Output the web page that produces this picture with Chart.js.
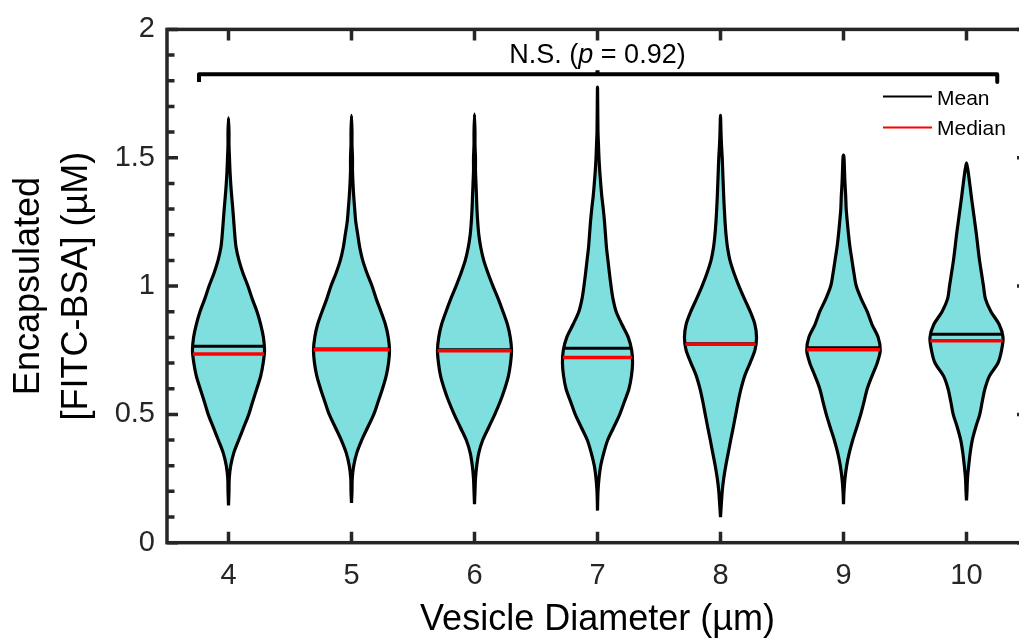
<!DOCTYPE html>
<html>
<head>
<meta charset="utf-8">
<title>Encapsulated FITC-BSA by vesicle diameter</title>
<script src="https://cdn.jsdelivr.net/npm/chart.js@4.4.0/dist/chart.umd.min.js"></script>
<style>
  html, body { margin: 0; padding: 0; overflow: hidden; background: #fff; }
  canvas { display: block; }
</style>
</head>
<body>
<canvas id="violin-chart" width="1040" height="638"></canvas>
<script>
/* ─── DATA ─── */
const diameters   = [4, 5, 6, 7, 8, 9, 10];            // µm, one violin each
const yTickValues = [0, 0.5, 1, 1.5, 2];
const yMinorTicks = [0.1, 0.2, 0.3, 0.4, 0.6, 0.7, 0.8, 0.9, 1.1, 1.2, 1.3, 1.4, 1.6, 1.7, 1.8, 1.9];

// density profile: concentration levels (µM) and violin half-widths at each level
// (half-widths in units of the spacing between diameters)
const levels = [0.20, 0.25, 0.30, 0.35, 0.40, 0.45, 0.50, 0.55, 0.60, 0.65, 0.70, 0.75, 0.80, 0.85,
                0.90, 0.95, 1.00, 1.05, 1.10, 1.15, 1.20, 1.25, 1.30, 1.35, 1.40, 1.45, 1.50, 1.55, 1.60];

const width4  = [0.004, 0.006, 0.018, 0.043, 0.083, 0.124, 0.165, 0.197, 0.230, 0.262, 0.282, 0.293, 0.284, 0.262,
                 0.232, 0.193, 0.158, 0.118, 0.085, 0.062, 0.051, 0.043, 0.035, 0.026, 0.018, 0.012, 0.008, 0.004, 0.004];
const width5  = [0.004, 0.006, 0.018, 0.043, 0.083, 0.132, 0.181, 0.217, 0.252, 0.282, 0.301, 0.309, 0.299, 0.276,
                 0.240, 0.201, 0.167, 0.126, 0.091, 0.067, 0.051, 0.035, 0.026, 0.018, 0.012, 0.008, 0.008, 0.004, 0.004];
const width6  = [0.004, 0.008, 0.018, 0.035, 0.067, 0.116, 0.165, 0.209, 0.246, 0.276, 0.293, 0.301, 0.291, 0.268,
                 0.232, 0.193, 0.150, 0.110, 0.075, 0.051, 0.035, 0.026, 0.020, 0.016, 0.012, 0.008, 0.008, 0.004, 0.004];
const width7  = [0.004, 0.012, 0.026, 0.051, 0.083, 0.132, 0.181, 0.219, 0.256, 0.276, 0.285, 0.278, 0.250, 0.199,
                 0.152, 0.126, 0.110, 0.097, 0.085, 0.073, 0.065, 0.057, 0.047, 0.035, 0.026, 0.018, 0.012, 0.008, 0.004];
const width8  = [0.014, 0.026, 0.043, 0.063, 0.083, 0.104, 0.124, 0.144, 0.167, 0.197, 0.240, 0.280, 0.293, 0.280,
                 0.242, 0.195, 0.150, 0.110, 0.077, 0.057, 0.045, 0.037, 0.031, 0.026, 0.022, 0.018, 0.014, 0.008, 0.004];
const width9  = [0.004, 0.012, 0.026, 0.047, 0.075, 0.108, 0.140, 0.167, 0.193, 0.232, 0.274, 0.299, 0.282, 0.232,
                 0.193, 0.144, 0.104, 0.085, 0.069, 0.053, 0.041, 0.031, 0.022, 0.018, 0.012, 0.008, 0.004, null, null];
const width10 = [0.004, 0.008, 0.018, 0.030, 0.047, 0.075, 0.108, 0.128, 0.150, 0.187, 0.256, 0.285, 0.297, 0.266,
                 0.199, 0.154, 0.138, 0.122, 0.106, 0.093, 0.081, 0.067, 0.053, 0.039, 0.026, 0.012, null, null, null];
const halfWidths = [width4, width5, width6, width7, width8, width9, width10];

const minValues = [0.145, 0.155, 0.150, 0.125, 0.100, 0.150, 0.165];
const maxValues = [1.655, 1.665, 1.670, 1.775, 1.665, 1.510, 1.480];
const means     = [0.765, 0.755, 0.752, 0.758, 0.775, 0.760, 0.812];
const medians   = [0.735, 0.752, 0.748, 0.722, 0.773, 0.752, 0.787];

const pValue       = 0.92;
const bracketEnds  = [3.76, 10.25];
const bracketLevel = 1.825;
const bracketDrop  = 1.795;

/* ─── STYLE ─── */
const FONT      = '"Liberation Sans", Arial, Helvetica, sans-serif';
const AXIS_GREY = '#262626';
const FILL      = '#7fdfde';

Chart.defaults.font.family = FONT;

/* ─── BUILD SHAPES ─── */
function violinOutline(i) {
  const c = diameters[i], w = halfWidths[i];
  const right = [], left = [];
  levels.forEach((lv, k) => {
    if (w[k] == null || lv <= minValues[i] || lv >= maxValues[i]) return;
    right.push({ x: c + w[k], y: lv });
    left.push({ x: c - w[k], y: lv });
  });
  return [{ x: c, y: minValues[i] }, ...right, { x: c, y: maxValues[i] }, ...left.reverse(), { x: c, y: minValues[i] }];
}

function widthAt(i, v) {
  const w = halfWidths[i];
  for (let k = 0; k < levels.length - 1; k++) {
    if (v >= levels[k] && v <= levels[k + 1]) {
      const t = (v - levels[k]) / (levels[k + 1] - levels[k]);
      return w[k] + t * (w[k + 1] - w[k]);
    }
  }
  return 0;
}

function statLine(i, v) {
  const hw = widthAt(i, v);
  return [{ x: diameters[i] - hw, y: v }, { x: diameters[i] + hw, y: v }];
}

const datasets = [];

diameters.forEach((d, i) => {
  datasets.push({
    label: 'violin ' + d,
    data: violinOutline(i),
    showLine: true,
    fill: 'shape',
    backgroundColor: FILL,
    borderColor: '#000',
    borderWidth: 3.2,
    borderJoinStyle: 'round',
    tension: 0.3,
    pointRadius: 0,
    order: 4
  });
  datasets.push({
    label: 'mean ' + d,
    data: statLine(i, means[i]),
    showLine: true,
    borderColor: '#000',
    borderWidth: 3,
    pointRadius: 0,
    order: 3
  });
  datasets.push({
    label: 'median ' + d,
    data: statLine(i, medians[i]),
    showLine: true,
    borderColor: '#ff0000',
    borderWidth: 3.5,
    pointRadius: 0,
    order: 2
  });
});

// significance bracket over all groups
datasets.push({
  label: 'bracket',
  data: [
    { x: bracketEnds[0], y: bracketDrop }, { x: bracketEnds[0], y: bracketLevel },
    { x: bracketEnds[1], y: bracketLevel }, { x: bracketEnds[1], y: bracketDrop }
  ],
  showLine: true,
  borderColor: '#000',
  borderWidth: 4,
  borderJoinStyle: 'round',
  pointRadius: 0,
  order: 1
});
datasets.push({
  label: 'bracket notch',
  data: [{ x: 7, y: bracketLevel }, { x: 7, y: bracketLevel + 0.016 }],
  showLine: true,
  borderColor: '#000',
  borderWidth: 4,
  pointRadius: 0,
  order: 1
});

/* ─── AXES BOX, INWARD TICKS, LEGEND, P-VALUE ─── */
const axesFrame = {
  id: 'axesFrame',
  afterDraw(chart) {
    const { ctx, chartArea: a, scales: { x, y } } = chart;
    ctx.save();
    ctx.strokeStyle = AXIS_GREY;
    ctx.lineWidth = 3.5;

    ctx.beginPath();
    diameters.forEach(v => {
      const px = x.getPixelForValue(v);
      ctx.moveTo(px, a.bottom); ctx.lineTo(px, a.bottom - 11);
      ctx.moveTo(px, a.top);    ctx.lineTo(px, a.top + 11);
    });
    yTickValues.forEach(v => {
      const py = y.getPixelForValue(v);
      ctx.moveTo(a.left, py);  ctx.lineTo(a.left + 11, py);
      ctx.moveTo(a.right, py); ctx.lineTo(a.right - 11, py);
    });
    yMinorTicks.forEach(v => {
      const py = y.getPixelForValue(v);
      ctx.moveTo(a.left, py);  ctx.lineTo(a.left + 7.5, py);
      ctx.moveTo(a.right, py); ctx.lineTo(a.right - 7.5, py);
    });
    ctx.stroke();
    ctx.strokeRect(a.left, a.top, a.right - a.left, a.bottom - a.top);

    // legend
    const lx = a.right - 145;
    ctx.lineWidth = 2;
    ctx.strokeStyle = '#000';
    ctx.beginPath(); ctx.moveTo(lx, a.top + 67); ctx.lineTo(lx + 49, a.top + 67); ctx.stroke();
    ctx.strokeStyle = '#ff0000';
    ctx.beginPath(); ctx.moveTo(lx, a.top + 98); ctx.lineTo(lx + 49, a.top + 98); ctx.stroke();
    ctx.fillStyle = '#000';
    ctx.font = '21px ' + FONT;
    ctx.textAlign = 'left';
    ctx.textBaseline = 'middle';
    ctx.fillText('Mean', lx + 54, a.top + 70);
    ctx.fillText('Median', lx + 54, a.top + 100);

    // N.S. (p = 0.92)
    const parts = [
      { t: 'N.S. (', f: '27px ' + FONT },
      { t: 'p', f: 'italic 27px ' + FONT },
      { t: ' = ' + pValue + ')', f: '27px ' + FONT }
    ];
    let total = 0;
    parts.forEach(p => { ctx.font = p.f; p.w = ctx.measureText(p.t).width; total += p.w; });
    let tx = x.getPixelForValue(7) - total / 2;
    const ty = y.getPixelForValue(1.9);
    parts.forEach(p => { ctx.font = p.f; ctx.fillText(p.t, tx, ty); tx += p.w; });
    ctx.restore();
  }
};

/* ─── CHART ─── */
new Chart(document.getElementById('violin-chart'), {
  type: 'scatter',
  data: { datasets },
  options: {
    responsive: false,
    animation: false,
    events: [],
    layout: { padding: { top: 26, right: 12, left: 0, bottom: 0 } },
    plugins: { legend: { display: false }, tooltip: { enabled: false } },
    scales: {
      x: {
        type: 'linear',
        min: 3.5,
        max: 10.5,
        afterBuildTicks: s => { s.ticks = diameters.map(v => ({ value: v })); },
        afterFit: s => { s.height = 95.3; },
        grid: { display: false, drawTicks: false },
        border: { display: false },
        ticks: { color: AXIS_GREY, font: { size: 29 }, padding: 16, maxRotation: 0, autoSkip: false },
        title: {
          display: true,
          text: 'Vesicle Diameter (µm)',
          color: '#000',
          font: { size: 36, lineHeight: 1 },
          padding: { top: 0, bottom: 0 }
        }
      },
      y: {
        min: 0,
        max: 2,
        afterBuildTicks: s => { s.ticks = yTickValues.map(v => ({ value: v })); },
        afterFit: s => { s.width = 167; },
        grid: { display: false, drawTicks: false },
        border: { display: false },
        ticks: { color: AXIS_GREY, font: { size: 29 }, padding: 12, callback: v => String(v) },
        title: {
          display: true,
          text: ['Encapsulated', '[FITC-BSA] (µM)'],
          color: '#000',
          font: { size: 36, lineHeight: 1.333 },
          padding: { top: 5, bottom: 0 }
        }
      }
    }
  },
  plugins: [axesFrame]
});
</script>
</body>
</html>
